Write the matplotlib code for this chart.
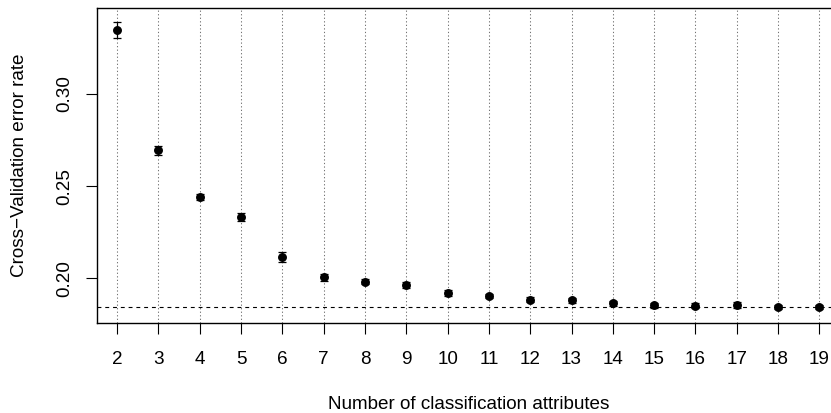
import numpy as np
import matplotlib
matplotlib.use("Agg")
import matplotlib.pyplot as plt

# number of attributes used and the CV error (mean, half-width of bar)
n_attr = [2, 3, 4, 5, 6, 7, 8, 9, 10, 11, 12, 13, 14, 15, 16, 17, 18, 19]
cv_err = [0.3346, 0.2694, 0.2441, 0.2331, 0.2116, 0.2006, 0.1981, 0.1964,
          0.1922, 0.1903, 0.1885, 0.1880, 0.1864, 0.1854, 0.1852, 0.1854,
          0.1843, 0.1844]
cv_sd = [0.0045, 0.0023, 0.0017, 0.0021, 0.0028, 0.0019, 0.0014, 0.0014,
         0.0017, 0.0012, 0.0015, 0.0014, 0.0012, 0.0013, 0.0012, 0.0015,
         0.0012, 0.0012]
best_err = 0.1843

plt.rcParams['font.family'] = ['Liberation Sans', 'DejaVu Sans']
fs = 13.6

W, H = 831, 413
fig = plt.figure(figsize=(W / 100, H / 100), dpi=100)
# plot region; right border runs off the picture like in the original
left, right, top, bottom = 96.5, 840.0, 7.5, 323.3
ax = fig.add_axes([left / W, 1 - bottom / H, (right - left) / W, (bottom - top) / H])

for x in n_attr:
    ax.axvline(x, color='0.45', lw=0.75, dashes=(1.2, 2.2), zorder=1)
ax.axhline(best_err, color='black', lw=0.8, dashes=(3.5, 3.5), zorder=1)

ax.errorbar(n_attr, cv_err, yerr=cv_sd, fmt='o', color='black', ms=5.4,
            elinewidth=0.9, capsize=3.2, capthick=0.9, zorder=3)

ax.set_xlim(1.5, 19.5)
ax.set_ylim(0.1756, 0.3469)
ax.set_xticks(n_attr)
ax.set_yticks([0.20, 0.25, 0.30])
ax.set_yticklabels(['0.20', '0.25', '0.30'], rotation=90, va='center')

ax.spines['right'].set_visible(False)
for s in ['left', 'bottom', 'top']:
    ax.spines[s].set_linewidth(1.0)
ax.tick_params(axis='both', direction='out', length=8, width=0.8,
               labelsize=fs, color='black')
ax.tick_params(axis='x', pad=12)
ax.tick_params(axis='y', pad=9)

ax.set_xlabel('Number of classification attributes', fontsize=fs, labelpad=20)
ax.set_ylabel('Cross\u2212Validation error rate', fontsize=fs, labelpad=20)

fig.savefig('out.png', dpi=100)
